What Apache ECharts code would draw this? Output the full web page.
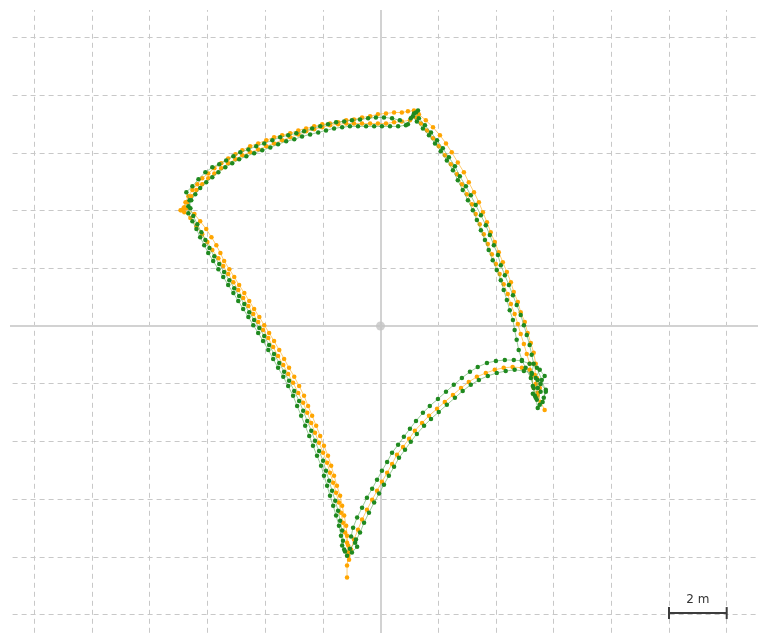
<!DOCTYPE html>
<html>
<head>
<meta charset="utf-8">
<script src="https://cdn.jsdelivr.net/npm/echarts@6/dist/echarts.min.js"></script>
<style>html,body{margin:0;padding:0;background:#fff;}#c{width:758px;height:633px;}</style>
</head>
<body>
<div id="c"></div>
<script>
// Axis extents (metres), grid step
const xRange = [-14, 14];
const yRange = [-12, 12];
const gridStep = 2;
const originPoint = [[0, 0]];
const scaleBar = { fromX: 10, toX: 12, y: -9.95, label: '2 m' };

// Orange trajectory (metres)
const orangeTrack = [
[5.69,-2.91],[5.55,-2.63],[5.45,-2.32],[5.38,-2.01],[5.35,-1.70],
[5.38,-1.31],[5.31,-0.93],[5.21,-0.59],[5.10,-0.24],[5.00,0.14],[4.86,0.48],[4.76,0.83],[4.62,1.18],[4.52,1.52],[4.38,1.87],[4.24,2.21],[4.10,2.56],[3.96,2.91],[3.82,3.25],[3.69,3.60],[3.55,3.94],[3.41,4.29],[3.24,4.64],[3.06,4.98],[2.89,5.33],[2.68,5.67],[2.47,6.02],[2.27,6.33],[2.06,6.61],[1.82,6.89],[1.57,7.13],[1.33,7.34],[1.16,7.47],
[0.95,7.44],[0.74,7.40],[0.47,7.40],[0.19,7.37],[-0.09,7.34],[-0.36,7.27],[-0.64,7.23],[-0.92,7.16],[-1.19,7.13],[-1.47,7.06],[-1.75,7.02],[-2.02,6.99],[-2.30,6.92],[-2.58,6.85],[-2.85,6.78],[-3.13,6.68],[-3.41,6.61],[-3.69,6.54],[-3.96,6.44],[-4.24,6.33],[-4.52,6.23],[-4.79,6.09],[-5.03,5.95],[-5.28,5.81],[-5.52,5.64],[-5.76,5.47],[-5.97,5.29],[-6.18,5.12],[-6.35,4.91],[-6.52,4.71],[-6.66,4.50],[-6.76,4.29],[-6.83,4.08],[-6.93,4.01],[-6.80,3.94],
[-6.59,3.74],[-6.38,3.46],[-6.18,3.18],[-6.00,2.91],[-5.83,2.63],[-5.62,2.35],[-5.45,2.08],[-5.28,1.80],[-5.10,1.52],[-4.93,1.25],[-4.76,0.97],[-4.58,0.69],[-4.41,0.42],[-4.24,0.14],[-4.07,-0.14],[-3.89,-0.42],[-3.72,-0.73],[-3.55,-1.04],[-3.37,-1.35],[-3.20,-1.66],[-3.03,-1.97],[-2.85,-2.32],[-2.68,-2.66],[-2.54,-3.01],[-2.40,-3.36],[-2.27,-3.70],[-2.13,-4.05],[-1.99,-4.39],[-1.85,-4.74],[-1.75,-5.09],[-1.64,-5.43],[-1.54,-5.78],[-1.44,-6.12],[-1.37,-6.47],[-1.30,-6.82],[-1.23,-7.16],[-1.16,-7.51],[-1.12,-7.85],[-1.09,-8.10],
[-1.02,-7.75],[-0.92,-7.40],[-0.78,-7.06],[-0.64,-6.71],[-0.47,-6.37],[-0.29,-6.02],[-0.12,-5.71],[0.05,-5.40],[0.23,-5.09],[0.40,-4.78],[0.57,-4.46],[0.78,-4.19],[0.99,-3.91],[1.19,-3.63],[1.44,-3.36],[1.68,-3.11],[1.96,-2.87],[2.23,-2.63],[2.51,-2.39],[2.79,-2.15],[3.06,-1.94],[3.34,-1.76],[3.65,-1.63],[3.96,-1.52],[4.27,-1.45],[4.58,-1.42],[4.90,-1.45],[5.17,-1.52],
[5.42,-1.80],[5.52,-2.15],[5.45,-2.42],[5.31,-2.15],[5.24,-1.73],
[5.17,-1.31],[5.07,-0.97],[4.97,-0.62],[4.86,-0.28],[4.76,0.07],[4.65,0.42],[4.52,0.76],[4.41,1.11],[4.27,1.45],[4.13,1.80],[4.00,2.15],[3.86,2.49],[3.72,2.84],[3.58,3.18],[3.44,3.53],[3.30,3.88],[3.17,4.22],[2.99,4.57],[2.82,4.91],[2.65,5.26],[2.44,5.61],[2.23,5.92],[2.02,6.23],[1.82,6.51],[1.61,6.78],[1.40,7.02],[1.23,7.23],
[1.02,7.13],[0.74,7.09],[0.47,7.06],[0.19,7.02],[-0.09,7.02],[-0.36,7.02],[-0.64,7.02],[-0.92,7.02],[-1.19,7.02],[-1.47,6.99],[-1.75,6.96],[-2.02,6.89],[-2.30,6.82],[-2.58,6.75],[-2.85,6.64],[-3.13,6.54],[-3.41,6.44],[-3.69,6.33],[-3.96,6.23],[-4.24,6.12],[-4.52,6.02],[-4.79,5.92],[-5.03,5.78],[-5.28,5.64],[-5.52,5.47],[-5.76,5.29],[-5.97,5.12],[-6.18,4.91],[-6.38,4.71],[-6.56,4.50],[-6.70,4.29],[-6.80,4.12],[-6.90,4.01],[-6.73,4.08],
[-6.45,3.88],[-6.25,3.63],[-6.04,3.36],[-5.86,3.08],[-5.69,2.80],[-5.55,2.53],[-5.42,2.25],[-5.24,1.97],[-5.07,1.70],[-4.90,1.42],[-4.72,1.14],[-4.55,0.87],[-4.38,0.59],[-4.20,0.31],[-4.03,0.03],[-3.86,-0.24],[-3.69,-0.52],[-3.51,-0.83],[-3.34,-1.14],[-3.17,-1.45],[-2.99,-1.76],[-2.82,-2.08],[-2.65,-2.42],[-2.51,-2.77],[-2.37,-3.11],[-2.23,-3.46],[-2.09,-3.81],[-1.96,-4.15],[-1.82,-4.50],[-1.71,-4.84],[-1.61,-5.19],[-1.51,-5.54],[-1.40,-5.88],[-1.33,-6.23],[-1.26,-6.57],[-1.19,-6.92],[-1.16,-7.27],[-1.12,-7.61],[-1.12,-7.96],[-1.16,-8.30],[-1.16,-8.72]
];

// Green trajectory (metres)
const greenTrack = [
[5.52,-2.73],[5.66,-2.49],[5.73,-2.21],[5.55,-2.01],[5.69,-1.73],[5.52,-1.52],[5.38,-1.80],[5.45,-2.15],[5.35,-2.42],[5.28,-2.08],[5.24,-1.66],[5.31,-1.31],
[5.24,-1.00],[5.17,-0.66],[5.07,-0.31],[4.97,0.03],[4.86,0.38],[4.72,0.73],[4.59,1.07],[4.45,1.42],[4.31,1.76],[4.17,2.11],[4.07,2.46],[3.93,2.80],[3.79,3.15],[3.65,3.49],[3.48,3.84],[3.30,4.19],[3.13,4.53],[2.96,4.84],[2.75,5.19],[2.58,5.54],[2.37,5.85],[2.16,6.16],[1.96,6.44],[1.75,6.71],[1.54,6.96],[1.33,7.20],[1.16,7.37],
[1.30,7.47],[1.23,7.40],[1.05,7.20],[0.95,6.99],
[0.67,7.13],[0.40,7.20],[0.12,7.23],[-0.16,7.23],[-0.43,7.20],[-0.71,7.16],[-0.99,7.13],[-1.26,7.09],[-1.54,7.06],[-1.82,6.99],[-2.09,6.92],[-2.37,6.85],[-2.65,6.75],[-2.92,6.68],[-3.20,6.61],[-3.48,6.54],[-3.75,6.44],[-4.03,6.33],[-4.31,6.23],[-4.58,6.12],[-4.86,6.02],[-5.10,5.88],[-5.35,5.74],[-5.59,5.61],[-5.83,5.50],[-6.07,5.33],[-6.31,5.09],[-6.52,4.84],[-6.73,4.64],
[-6.62,4.36],[-6.59,4.08],[-6.49,3.81],[-6.35,3.53],[-6.21,3.25],[-6.07,2.98],[-5.93,2.70],[-5.76,2.42],[-5.59,2.15],[-5.42,1.87],[-5.24,1.59],[-5.07,1.31],[-4.90,1.04],[-4.72,0.76],[-4.55,0.48],[-4.38,0.21],[-4.20,-0.07],[-4.03,-0.35],[-3.86,-0.66],[-3.69,-0.97],[-3.51,-1.28],[-3.34,-1.59],[-3.17,-1.90],[-2.99,-2.25],[-2.82,-2.60],[-2.68,-2.94],[-2.54,-3.29],[-2.40,-3.63],[-2.27,-3.98],[-2.13,-4.33],[-1.99,-4.67],[-1.89,-5.02],[-1.78,-5.36],[-1.68,-5.71],[-1.57,-6.06],[-1.47,-6.40],[-1.40,-6.75],[-1.33,-7.09],[-1.30,-7.44],[-1.26,-7.75],
[-1.16,-7.96],[-0.99,-7.85],[-0.81,-7.65],[-0.85,-7.40],[-1.02,-7.30],
[-0.95,-6.99],[-0.81,-6.64],[-0.64,-6.30],[-0.47,-5.95],[-0.29,-5.64],[-0.12,-5.33],[0.05,-5.02],[0.23,-4.71],[0.40,-4.39],[0.61,-4.12],[0.81,-3.84],[1.02,-3.56],[1.23,-3.29],[1.47,-3.01],[1.71,-2.77],[1.99,-2.53],[2.27,-2.28],[2.54,-2.04],[2.82,-1.80],[3.10,-1.59],[3.37,-1.42],[3.69,-1.28],[4.00,-1.21],[4.31,-1.18],[4.62,-1.18],[4.90,-1.21],[5.17,-1.31],[5.42,-1.45],
[5.59,-1.87],[5.73,-2.28],[5.62,-2.63],[5.45,-2.84],[5.38,-2.49],[5.31,-2.15],[5.21,-1.80],[5.03,-1.45],[4.90,-1.18],
[4.79,-0.83],[4.72,-0.48],[4.65,-0.14],[4.59,0.21],[4.48,0.55],[4.38,0.90],[4.27,1.25],[4.17,1.59],[4.03,1.94],[3.89,2.28],[3.75,2.63],[3.62,2.98],[3.48,3.32],[3.34,3.67],[3.20,4.01],[3.03,4.36],[2.85,4.71],[2.68,5.05],[2.51,5.40],[2.30,5.74],[2.09,6.06],[1.89,6.33],[1.68,6.61],[1.47,6.85],[1.26,7.09],[1.12,7.27],
[0.88,6.96],[0.61,6.92],[0.33,6.92],[0.05,6.92],[-0.22,6.92],[-0.50,6.92],[-0.78,6.92],[-1.06,6.92],[-1.33,6.89],[-1.61,6.85],[-1.89,6.78],[-2.16,6.71],[-2.44,6.64],[-2.72,6.57],[-2.99,6.47],[-3.27,6.40],[-3.55,6.30],[-3.82,6.19],[-4.10,6.09],[-4.38,5.99],[-4.65,5.88],[-4.90,5.78],[-5.14,5.64],[-5.38,5.50],[-5.62,5.33],[-5.83,5.16],[-6.04,4.98],[-6.25,4.78],[-6.42,4.57],[-6.56,4.36],[-6.66,4.15],
[-6.66,3.91],[-6.52,3.63],[-6.38,3.36],[-6.25,3.08],[-6.11,2.80],[-5.97,2.53],[-5.80,2.25],[-5.62,1.97],[-5.45,1.70],[-5.28,1.42],[-5.10,1.14],[-4.93,0.87],[-4.76,0.59],[-4.58,0.31],[-4.41,0.03],[-4.24,-0.24],[-4.07,-0.52],[-3.89,-0.83],[-3.72,-1.14],[-3.55,-1.45],[-3.37,-1.76],[-3.20,-2.08],[-3.03,-2.42],[-2.89,-2.77],[-2.75,-3.11],[-2.61,-3.46],[-2.47,-3.81],[-2.34,-4.15],[-2.20,-4.50],[-2.06,-4.84],[-1.96,-5.19],[-1.85,-5.54],[-1.75,-5.88],[-1.64,-6.23],[-1.54,-6.57],[-1.44,-6.92],[-1.37,-7.27],[-1.33,-7.61],[-1.23,-7.82],[-1.06,-7.72],
[-0.88,-7.51],[-0.71,-7.16],[-0.57,-6.82],[-0.40,-6.47],[-0.22,-6.12],[-0.05,-5.81],[0.12,-5.50],[0.29,-5.19],[0.47,-4.88],[0.64,-4.57],[0.85,-4.29],[1.05,-4.01],[1.26,-3.74],[1.51,-3.46],[1.75,-3.22],[2.02,-2.98],[2.30,-2.73],[2.58,-2.49],[2.85,-2.25],[3.13,-2.04],[3.41,-1.87],[3.72,-1.73],[4.03,-1.63],[4.34,-1.56],[4.65,-1.52],[4.97,-1.56],[5.24,-1.63],
[5.45,-1.87],[5.55,-2.28],[5.42,-2.56],[5.28,-2.35]
];

const chart = echarts.init(document.getElementById('c'), null, {renderer: 'canvas'});
const splitStyle = { show: true, lineStyle: { color: '#c8c8c8', width: 1, type: [5, 4] } };
const axisLineStyle = { show: true, onZero: true, lineStyle: { color: '#d2d2d2', width: 2 } };

chart.setOption({
  animation: false,
  backgroundColor: '#ffffff',
  grid: { left: -23.4, top: -20.2, width: 807.8, height: 692.4, containLabel: false, outerBoundsMode: 'none' },
  xAxis: {
    type: 'value', min: xRange[0], max: xRange[1], interval: gridStep,
    axisLabel: { show: false }, axisTick: { show: false },
    axisLine: axisLineStyle, splitLine: splitStyle
  },
  yAxis: {
    type: 'value', min: yRange[0], max: yRange[1], interval: gridStep,
    axisLabel: { show: false }, axisTick: { show: false },
    axisLine: axisLineStyle, splitLine: splitStyle
  },
  series: [
    {
      type: 'scatter', data: originPoint, symbolSize: 9,
      itemStyle: { color: '#c4c4c4' }, z: 3, silent: true
    },
    {
      name: 'orange', type: 'line', data: orangeTrack, symbol: 'circle', symbolSize: 4.5,
      showSymbol: true, showAllSymbol: true,
      itemStyle: { color: '#ffa500' },
      lineStyle: { color: '#ffb733', width: 1, opacity: 0.7 }, z: 4
    },
    {
      name: 'green', type: 'line', data: greenTrack, symbol: 'circle', symbolSize: 4.5,
      showSymbol: true, showAllSymbol: true,
      itemStyle: { color: '#1f8a1f' },
      lineStyle: { color: '#5aa85a', width: 1, opacity: 0.6 }, z: 5
    }
  ]
});

// Scale bar placed in data coordinates and margin masks
const p0 = chart.convertToPixel({ gridIndex: 0 }, [scaleBar.fromX, scaleBar.y]);
const p1 = chart.convertToPixel({ gridIndex: 0 }, [scaleBar.toX, scaleBar.y]);
chart.setOption({
  graphic: [
    { type: 'rect', shape: { x: 0, y: 0, width: 10, height: 633 }, style: { fill: '#ffffff' }, z: 100, silent: true },
    { type: 'rect', shape: { x: 0, y: 0, width: 758, height: 10 }, style: { fill: '#ffffff' }, z: 100, silent: true },
    { type: 'line', shape: { x1: p0[0], y1: p0[1], x2: p1[0], y2: p1[1] }, style: { stroke: '#3c3c3c', lineWidth: 2 }, z: 101 },
    { type: 'line', shape: { x1: p0[0], y1: p0[1] - 6, x2: p0[0], y2: p0[1] + 6 }, style: { stroke: '#3c3c3c', lineWidth: 2 }, z: 101 },
    { type: 'line', shape: { x1: p1[0], y1: p1[1] - 6, x2: p1[0], y2: p1[1] + 6 }, style: { stroke: '#3c3c3c', lineWidth: 2 }, z: 101 },
    { type: 'rect', shape: { x: (p0[0] + p1[0]) / 2 - 14, y: p0[1] - 22, width: 28, height: 17 }, style: { fill: '#ffffff' }, z: 100, silent: true },
    { type: 'text', x: (p0[0] + p1[0]) / 2, y: p0[1] - 13,
      style: { text: scaleBar.label, fill: '#333333', font: '12px "DejaVu Sans", sans-serif', textAlign: 'center', textVerticalAlign: 'middle' }, z: 102 }
  ]
});
</script>
</body>
</html>
